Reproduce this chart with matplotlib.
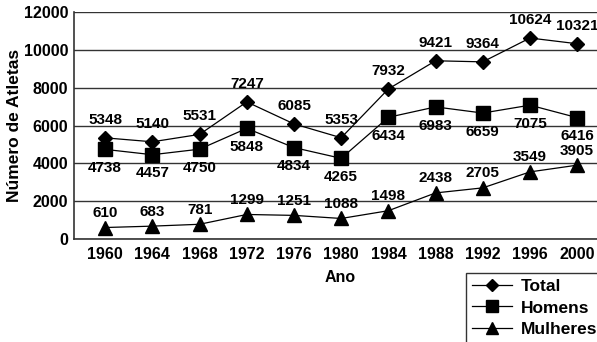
import matplotlib.pyplot as plt
import numpy as np

plt.rcParams['font.family'] = ['Liberation Sans', 'DejaVu Sans']
plt.rcParams['font.weight'] = 'bold'

anos = ["1960", "1964", "1968", "1972", "1976", "1980", "1984", "1988", "1992", "1996", "2000"]
total = [5348, 5140, 5531, 7247, 6085, 5353, 7932, 9421, 9364, 10624, 10321]
homens = [4738, 4457, 4750, 5848, 4834, 4265, 6434, 6983, 6659, 7075, 6416]
mulheres = [610, 683, 781, 1299, 1251, 1088, 1498, 2438, 2705, 3549, 3905]

fig = plt.figure(figsize=(5.97, 3.42), dpi=100)
ax = fig.add_axes([0.124, 0.301, 0.876, 0.664])

x = np.arange(len(anos))
ax.plot(x, total, color="black", lw=0.9, marker="D", ms=7, label="Total")
ax.plot(x, homens, color="black", lw=0.9, marker="s", ms=10, label="Homens")
ax.plot(x, mulheres, color="black", lw=0.9, marker="^", ms=10, label="Mulheres")

fs = 11
for i in x:
    ax.annotate(str(total[i]), (i, total[i]), xytext=(0, 13), textcoords="offset points",
                ha="center", va="center", fontsize=fs, fontweight="bold")
    ax.annotate(str(homens[i]), (i, homens[i]), xytext=(0, -13.5), textcoords="offset points",
                ha="center", va="center", fontsize=fs, fontweight="bold")
    ax.annotate(str(mulheres[i]), (i, mulheres[i]), xytext=(0, 10.5), textcoords="offset points",
                ha="center", va="center", fontsize=fs, fontweight="bold")

ax.set_xlim(-0.66, 10.42)
ax.set_ylim(0, 12000)
ax.set_yticks(range(0, 12001, 2000))
ax.set_xticks(x)
ax.set_xticklabels(anos)
ax.tick_params(length=0, labelsize=11.5)
ax.tick_params(axis="y", pad=4)
ax.tick_params(axis="x", pad=6)
for lab in ax.get_xticklabels() + ax.get_yticklabels():
    lab.set_fontweight("bold")
ax.yaxis.grid(True, color="#333333", lw=1)
ax.set_axisbelow(True)
for s in ["top", "right"]:
    ax.spines[s].set_visible(False)
ax.spines["left"].set_color("#333333")
ax.spines["bottom"].set_color("#333333")
ax.spines["left"].set_linewidth(1.2)
ax.spines["bottom"].set_linewidth(1.2)

fig.text(0.025, 0.632, "Número de Atletas", rotation=90, ha="center", va="center",
         fontsize=12.5, fontweight="bold")
fig.text(0.57, 0.19, "Ano", ha="center", va="center", fontsize=11.5, fontweight="bold")

leg = fig.legend(loc="upper left", bbox_to_anchor=(0.781, 0.202), frameon=True,
                 fancybox=False, edgecolor="black", fontsize=12.5, handlelength=2.3,
                 borderpad=0.35, labelspacing=0.36, handletextpad=0.5, borderaxespad=0,
                 markerscale=0.85)
leg.get_frame().set_linewidth(1)
for t in leg.get_texts():
    t.set_fontweight("bold")

fig.savefig("out.png", dpi=100)
